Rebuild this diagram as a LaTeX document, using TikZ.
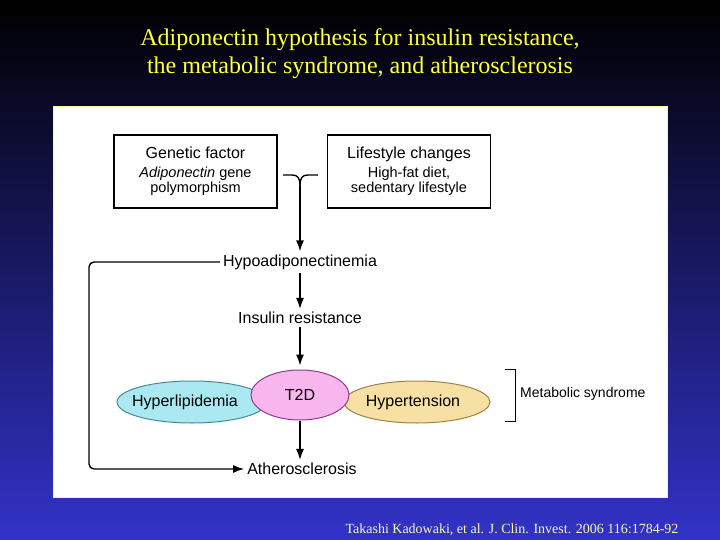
\documentclass[tikz,border=0pt]{standalone}
\usepackage{fontspec}
\setmainfont{Liberation Sans}
\newfontfamily\timesfont{Liberation Serif}
\usetikzlibrary{shapes.geometric, arrows.meta, positioning}

\definecolor{slidetop}{RGB}{0,0,0}
\definecolor{slidebot}{RGB}{50,50,200}
\definecolor{titleyellow}{RGB}{255,255,60}
\definecolor{citeyellow}{RGB}{250,250,170}
\definecolor{panelrim}{RGB}{250,250,150}
\definecolor{lipidfill}{RGB}{170,232,242}
\definecolor{lipidline}{RGB}{70,140,150}
\definecolor{tddfill}{RGB}{248,182,238}
\definecolor{tddline}{RGB}{150,60,135}
\definecolor{tensfill}{RGB}{246,224,164}
\definecolor{tensline}{RGB}{160,130,70}

\begin{document}
\begin{tikzpicture}[x=1pt,y=-1pt,
		label/.style={font=\fontsize{16}{19}\selectfont, inner sep=3pt},
		factorbox/.style={draw, line width=1.4pt, minimum width=163pt, minimum height=73pt, align=center, inner sep=2pt, font=\fontsize{14.5}{15.5}\selectfont},
		blob/.style={ellipse, line width=1pt, font=\fontsize{16}{19}\selectfont, inner sep=0pt},
		arr/.style={-{Latex[length=11pt,width=8pt]}, line width=1.4pt},
		link/.style={line width=1.4pt}]
		% Slide background and panel
		\useasboundingbox (0,0) rectangle (720,540);
		\shade[top color=slidetop, bottom color=slidebot] (0,0) rectangle (720,540);
		\draw[panelrim, fill=white, line width=1pt] (53,107) rectangle (667,497);
		% Title and citation
		\node[titleyellow, align=center, font=\timesfont\fontsize{24}{28}\selectfont] (title) at (360,54)
			{Adiponectin hypothesis for insulin resistance,\\the metabolic syndrome, and atherosclerosis};
		\node[citeyellow, font=\timesfont\fontsize{14}{16}\selectfont] (cite) at (512,530)
			{Takashi Kadowaki, et al. J. Clin. Invest. 2006 116:1784-92};
		% Causes
		\node[factorbox] (genetic) at (195.5,171.5)
			{{\fontsize{16}{19}\selectfont Genetic factor}\\[3pt]
			 \textit{Adiponectin} gene\\
			 polymorphism};
		\node[factorbox] (lifestyle) at (409,171.5)
			{{\fontsize{16}{19}\selectfont Lifestyle changes}\\[3pt]
			 High-fat diet,\\
			 sedentary lifestyle};
		% Chain
		\node[label] (hypo) at (300,262) {Hypoadiponectinemia};
		\node[label] (insulin) at (300,318) {Insulin resistance};
		\node[blob, fill=lipidfill, draw=lipidline, minimum width=150pt, minimum height=42pt] (lipid) at (192,402) {\hspace*{-14pt}Hyperlipidemia};
		\node[blob, fill=tensfill, draw=tensline, minimum width=146pt, minimum height=42pt] (tension) at (417,402) {\hspace*{-8pt}Hypertension};
		\node[blob, fill=tddfill, draw=tddline, minimum width=98pt, minimum height=50pt] (tdd) at (300,395) {T2D};
		\node[label] (athero) at (302,469) {Atherosclerosis};
		% Metabolic syndrome bracket
		\node[font=\fontsize{14}{17}\selectfont, anchor=west, inner sep=0pt] (metsyn) at (520,394) {Metabolic syndrome};
		\draw[line width=1pt] (505,369) -- (515,369) -- (515,421) -- (505,421);
		% Junction of the two causes
		\coordinate (jleft) at (283,175);
		\coordinate (jright) at (318,175);
		\coordinate (jstem) at (300,186);
		\draw[link] (jleft) -- (292,175) .. controls (298,175) and (300,178) .. (jstem);
		\draw[link] (jright) -- (308,175) .. controls (302,175) and (300,178) .. (jstem);
		\draw[arr] (jstem) -- (hypo.north);
		\draw[arr] (hypo.south) -- (insulin.north);
		\draw[arr, shorten >=4pt] (insulin.south) -- (tdd.north);
		\draw[arr] (tdd.south) -- (tdd.south |- athero.north);
		% Direct route to atherosclerosis
		\coordinate (fb) at (89,300);
		\draw[arr, rounded corners=5pt] (hypo.west) -- (hypo.west -| fb) -- (athero.west -| fb) -- (athero.west);
	\end{tikzpicture}
\end{document}
